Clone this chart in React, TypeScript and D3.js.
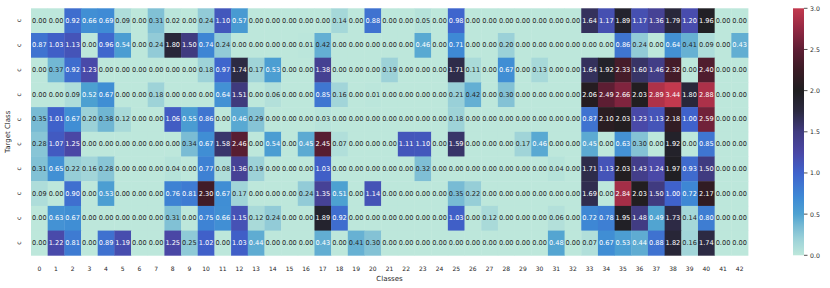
import React from "react";
import * as d3 from "d3";

// predicted class columns and the ten target-class rows (all labelled "c")
const classes = d3.range(43).map(String);
const rowLabels = ["c", "c", "c", "c", "c", "c", "c", "c", "c", "c"];

const row0 = [0.0, 0.0, 0.92, 0.66, 0.69, 0.09, 0.0, 0.31, 0.02, 0.0, 0.24, 1.1, 0.57, 0.0, 0.0, 0.0, 0.0, 0.0, 0.14, 0.0, 0.88, 0.0, 0.0, 0.05, 0.0, 0.98, 0.0, 0.0, 0.0, 0.0, 0.0, 0.0, 0.0, 1.64, 1.17, 1.89, 1.17, 1.36, 1.79, 1.2, 1.96, 0.0, 0.0];
const row1 = [0.87, 1.03, 1.13, 0.0, 0.96, 0.54, 0.0, 0.24, 1.8, 1.5, 0.74, 0.24, 0.0, 0.0, 0.0, 0.0, 0.01, 0.42, 0.0, 0.0, 0.0, 0.0, 0.0, 0.46, 0.0, 0.71, 0.0, 0.0, 0.2, 0.0, 0.0, 0.0, 0.0, 0.0, 0.0, 0.86, 0.24, 0.0, 0.64, 0.41, 0.09, 0.0, 0.43];
const row2 = [0.0, 0.37, 0.92, 1.23, 0.0, 0.0, 0.0, 0.0, 0.0, 0.0, 0.18, 0.97, 1.74, 0.17, 0.53, 0.0, 0.0, 1.38, 0.0, 0.0, 0.0, 0.19, 0.0, 0.0, 0.0, 1.71, 0.11, 0.0, 0.67, 0.0, 0.13, 0.0, 0.0, 1.64, 1.92, 2.33, 1.6, 1.46, 2.32, 0.0, 2.4, 0.0, 0.0];
const row3 = [0.0, 0.0, 0.09, 0.52, 0.67, 0.0, 0.0, 0.18, 0.0, 0.0, 0.0, 0.64, 1.51, 0.0, 0.06, 0.0, 0.0, 0.85, 0.16, 0.0, 0.01, 0.0, 0.0, 0.0, 0.0, 0.21, 0.42, 0.0, 0.3, 0.0, 0.0, 0.0, 0.0, 2.06, 2.49, 2.66, 2.03, 2.89, 3.44, 1.8, 2.88, 0.0, 0.0];
const row4 = [0.35, 1.01, 0.67, 0.2, 0.38, 0.12, 0.0, 0.0, 1.06, 0.55, 0.86, 0.0, 0.46, 0.29, 0.0, 0.0, 0.0, 0.03, 0.0, 0.0, 0.0, 0.0, 0.0, 0.0, 0.0, 0.18, 0.0, 0.0, 0.0, 0.0, 0.0, 0.0, 0.0, 0.87, 2.1, 2.03, 1.23, 1.13, 2.18, 1.0, 2.59, 0.0, 0.0];
const row5 = [0.28, 1.07, 1.25, 0.0, 0.0, 0.0, 0.0, 0.0, 0.0, 0.34, 0.67, 1.58, 2.46, 0.0, 0.54, 0.0, 0.45, 2.45, 0.07, 0.0, 0.0, 0.0, 1.11, 1.1, 0.0, 1.59, 0.0, 0.0, 0.0, 0.17, 0.46, 0.0, 0.0, 0.45, 0.0, 0.63, 0.3, 0.0, 1.92, 0.0, 0.85, 0.0, 0.0];
const row6 = [0.31, 0.65, 0.22, 0.16, 0.28, 0.0, 0.0, 0.0, 0.04, 0.0, 0.77, 0.08, 1.36, 0.19, 0.0, 0.0, 0.0, 1.03, 0.0, 0.0, 0.0, 0.0, 0.0, 0.32, 0.0, 0.0, 0.0, 0.0, 0.0, 0.0, 0.0, 0.04, 0.0, 1.71, 1.13, 2.03, 1.43, 1.24, 1.97, 0.93, 1.5, 0.0, 0.0];
const row7 = [0.09, 0.0, 0.9, 0.0, 0.53, 0.0, 0.0, 0.0, 0.76, 0.81, 2.3, 0.67, 0.17, 0.0, 0.0, 0.0, 0.24, 1.35, 0.51, 0.0, 1.14, 0.0, 0.0, 0.0, 0.0, 0.35, 0.22, 0.0, 0.0, 0.0, 0.0, 0.0, 0.0, 1.69, 0.0, 2.84, 2.03, 1.5, 1.0, 0.72, 2.17, 0.0, 0.0];
const row8 = [0.0, 0.63, 0.67, 0.0, 0.0, 0.0, 0.0, 0.0, 0.31, 0.0, 0.75, 0.66, 1.15, 0.12, 0.24, 0.0, 0.0, 1.89, 0.92, 0.0, 0.0, 0.0, 0.0, 0.0, 0.0, 1.03, 0.0, 0.12, 0.0, 0.0, 0.0, 0.06, 0.0, 0.72, 0.78, 1.95, 1.48, 0.49, 1.73, 0.14, 0.8, 0.0, 0.0];
const row9 = [0.0, 1.22, 0.81, 0.0, 0.89, 1.19, 0.0, 0.0, 1.25, 0.25, 1.02, 0.0, 1.03, 0.44, 0.0, 0.0, 0.0, 0.43, 0.0, 0.41, 0.3, 0.0, 0.0, 0.0, 0.0, 0.0, 0.0, 0.0, 0.0, 0.0, 0.0, 0.48, 0.0, 0.07, 0.67, 0.53, 0.44, 0.88, 1.82, 0.16, 1.74, 0.0, 0.0];
const values = [row0, row1, row2, row3, row4, row5, row6, row7, row8, row9];

const colorbarTicks = [0, 0.5, 1, 1.5, 2, 2.5, 3];

// icefire-like ramp, clipped at 3.0
const rampStops = [0, 0.2, 0.35, 0.5, 0.7, 1.0, 1.25, 1.5, 1.75, 2.0, 2.25, 2.5, 2.75, 3.0];
const rampColors = ["#bde7db", "#9bd1d8", "#78bbd4", "#4ea2d1", "#3e8ad5", "#3f62cc", "#4a47a5", "#403b80", "#2b2940", "#1f1e20", "#3a1b25", "#5e1e34", "#932843", "#c3394e"];

const W = 830;
const H = 288;
const FONT = "DejaVu Sans, sans-serif";
const INK = "#262626";

const App: React.FC = () => {
  const left = 31, right = 748, top = 8.3, bottom = 255.3;

  const x = d3.scaleBand<string>().domain(classes).range([left, right]);
  const y = d3.scaleBand<number>().domain(d3.range(rowLabels.length)).range([top, bottom]);
  const color = d3
    .scaleLinear<string>()
    .domain(rampStops)
    .range(rampColors)
    .interpolate(d3.interpolateRgb)
    .clamp(true);

  const cbX = 793, cbW = 11;
  const cb = d3.scaleLinear().domain([0, 3]).range([bottom, top]);

  const gradStops = d3.range(0, 3.0001, 0.05);

  return (
    <svg
      width={W}
      height={H}
      style={{ position: "absolute", left: 0, top: 0, background: "#fff" }}
      fontFamily={FONT}
    >
      <defs>
        <linearGradient id="cbar" x1="0" y1="1" x2="0" y2="0">
          {gradStops.map((v) => (
            <stop key={v} offset={v / 3} stopColor={color(v)} />
          ))}
        </linearGradient>
      </defs>

      {values.map((row, r) =>
        row.map((v, c) => (
          <rect
            key={`${r}-${c}`}
            x={x(classes[c])!}
            y={y(r)!}
            width={x.bandwidth() + 0.4}
            height={y.bandwidth() + 0.4}
            fill={color(v)}
          />
        ))
      )}

      {values.map((row, r) =>
        row.map((v, c) => (
          <text
            key={`t${r}-${c}`}
            x={x(classes[c])! + x.bandwidth() / 2}
            y={y(r)! + y.bandwidth() / 2}
            textAnchor="middle"
            dominantBaseline="central"
            fontSize={6.6}
            // light cells get dark text, dark cells white
            fill={v > 0.425 ? "#ffffff" : INK}
          >
            {v.toFixed(2)}
          </text>
        ))
      )}

      {classes.map((c) => (
        <text
          key={`xt${c}`}
          x={x(c)! + x.bandwidth() / 2}
          y={268}
          textAnchor="middle"
          dominantBaseline="central"
          fontSize={6}
          fill={INK}
        >
          {c}
        </text>
      ))}

      {rowLabels.map((lab, r) => {
        const cy = y(r)! + y.bandwidth() / 2;
        return (
          <text
            key={`yt${r}`}
            transform={`translate(18,${cy}) rotate(-90)`}
            textAnchor="middle"
            dominantBaseline="central"
            fontSize={6.2}
            fill={INK}
          >
            {lab}
          </text>
        );
      })}

      <text x={(left + right) / 2} y={278.5} textAnchor="middle" dominantBaseline="central" fontSize={7} fill={INK}>
        Classes
      </text>
      <text
        transform={`translate(8,${(top + bottom) / 2}) rotate(-90)`}
        textAnchor="middle"
        dominantBaseline="central"
        fontSize={7}
        fill={INK}
      >
        Target Class
      </text>

      {/* colorbar */}
      <rect x={cbX} y={top} width={cbW} height={bottom - top} fill="url(#cbar)" />
      {colorbarTicks.map((t) => (
        <g key={`cb${t}`} transform={`translate(${cbX + cbW},${cb(t)})`}>
          <line x1={0} x2={3.5} stroke={INK} strokeWidth={0.8} />
          <text x={6} textAnchor="start" dominantBaseline="central" fontSize={6.2} fill={INK}>
            {t.toFixed(1)}
          </text>
        </g>
      ))}
    </svg>
  );
};

export default App;
